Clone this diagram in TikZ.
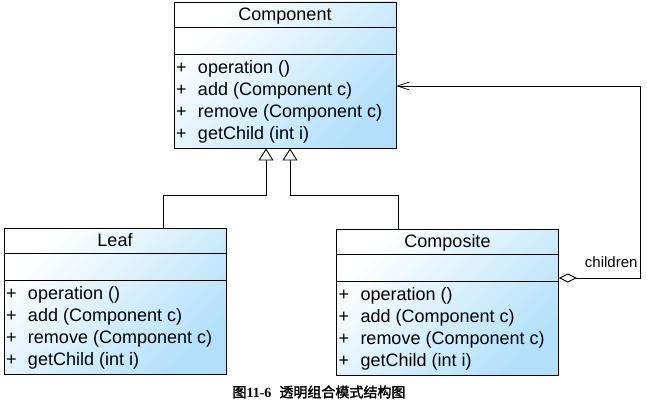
\documentclass[tikz,border=0pt]{standalone}
\usepackage{fontspec}
\setmainfont{Liberation Sans}
\newfontfamily\capserif{Liberation Serif}
\newfontfamily\cjk[FakeBold=2]{Noto Sans CJK SC}
\usetikzlibrary{arrows.meta, calc}
\definecolor{umlblue}{RGB}{178,224,250}

\begin{document}
\begin{tikzpicture}[x=1pt, y=-1pt, line width=0.9pt, font=\fontsize{18}{22}\selectfont]

\tikzset{
    umlclass/.style={draw, inner sep=0pt, minimum width=222pt, minimum height=146pt, top color=white, bottom color=umlblue, shading angle=45},
    inherit/.style={-{Triangle[open, width=15pt, length=12pt]}},
    aggregate/.style={{Diamond[open, width=9pt, length=18pt]}-{Straight Barb[width=8pt, length=12pt, line width=0.7pt]}},
    method/.style={anchor=base west, inner sep=0pt}
}

\useasboundingbox (0,0) rectangle (647,404);

\foreach \n/\title/\x/\y in {comp/Component/285/75, leaf/Leaf/115/301, compo/Composite/447.5/302} {
    \node[umlclass] (\n) at (\x,\y) {};
    \draw ($(\n.north west)+(0,26)$) -- ($(\n.north east)+(0,26)$);
    \draw ($(\n.north west)+(0,53)$) -- ($(\n.north east)+(0,53)$);
    \node[anchor=base, inner sep=0pt] (\n-name) at ($(\n.north)+(0,19)$) {\title};
    \foreach \m [count=\k] in {operation (), add (Component c), remove (Component c), getChild (int i)} {
        \node[method] (\n-m\k) at ($(\n.north west)+(2,50+22*\k)$) {\makebox[22pt][l]{+}\m};
    }
}

\draw[inherit] ([xshift=48pt]leaf.north) -- ++(0,-32) -| ([xshift=-19pt]comp.south);
\draw[inherit] ([xshift=-49.5pt]compo.north) -- ++(0,-33) -| ([xshift=5pt]comp.south);
\draw[aggregate] ([yshift=24pt]compo.east) -- ++(81,0)
    node[anchor=south east, inner sep=2pt, yshift=8pt, font=\fontsize{15}{18}\selectfont] (children) {children}
    |- ([yshift=-11pt]comp.east);

\node[font=\fontsize{14}{16}\selectfont] (caption) at (319,392) {\cjk 图{\capserif\bfseries 11-6}\hspace{8pt}透明组合模式结构图};

\end{tikzpicture}
\end{document}
